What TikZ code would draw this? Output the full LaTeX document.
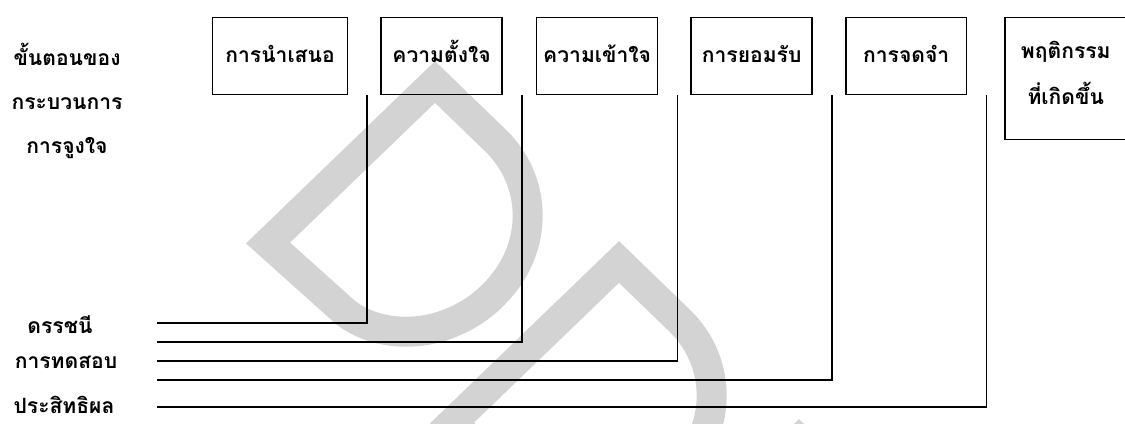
\documentclass[tikz,border=0pt]{standalone}
\usepackage{fontspec}
\newfontfamily\thaifont[Script=Thai]{Loma}
\usepackage{xcolor}
\usepackage{tikz}
\usetikzlibrary{positioning}
\definecolor{wmgray}{RGB}{211,211,211}

\begin{document}
\begin{tikzpicture}[
    x=0.02cm, y=-0.02cm,
    box/.style={draw, rectangle, line width=0.9pt, minimum width=2.42cm, minimum height=1.54cm, inner sep=2pt, align=center, font=\thaifont\bfseries\fontsize{12}{26}\selectfont},
    stage/.style={box, text height=10pt, text depth=3pt},
    lbl/.style={align=center, inner sep=0pt, font=\thaifont\bfseries\fontsize{12}{25}\selectfont},
    link/.style={line width=0.9pt},
    wmark/.style={draw=wmgray, line width=0.6cm, line join=miter}
]
    \useasboundingbox (0,0) rectangle (1125,423);

    % watermark behind everything
    \begin{scope}
        \clip (0,0) rectangle (1125,423);
        \foreach \dx/\dy in {0/0, 184/180, 364/358}
            \draw[wmark, shift={(\dx,\dy)}] (435,82) -- (268,243) -- (345,312)
                .. controls (375,336) and (430,342) .. (478,308)
                .. controls (540,262) and (542,185) .. (495,140) -- cycle;
    \end{scope}

    \node[lbl] (steps) at (67,101) {ขั้นตอนของ\\กระบวนการ\\การจูงใจ};

    \node[stage, minimum width=2.7cm] (present) at (280,56) {การนำเสนอ};
    \node[stage, right=0.64cm of present] (intent) {ความตั้งใจ};
    \node[stage, right=0.66cm of intent] (understand) {ความเข้าใจ};
    \node[stage, right=0.64cm of understand] (accept) {การยอมรับ};
    \node[stage, right=0.64cm of accept] (memory) {การจดจำ};
    \node[box, minimum height=2.44cm, text depth=0.22cm, right=0.74cm of memory.north east, anchor=north west] (behave) {พฤติกรรม\\ที่เกิดขึ้น};

    \node[lbl] (index) at (60,325) {ดรรชนี};
    \node[lbl] (test) at (66,362) {การทดสอบ};
    \node[lbl, text depth=0pt] (effect) at (64,405) {ประสิทธิผล};

    \coordinate (s1) at (157,323);
    \coordinate (s2) at (157,342);
    \coordinate (s3) at (157,361);
    \coordinate (s4) at (157,380);
    \coordinate (s5) at (157,407);

    \draw[link] ([xshift=0.38cm]present.south east) |- (s1);
    \draw[link] ([xshift=0.38cm]intent.south east) |- (s2);
    \draw[link] ([xshift=0.38cm]understand.south east) |- (s3);
    \draw[link] ([xshift=0.38cm]accept.south east) |- (s4);
    \draw[link] ([xshift=0.38cm]memory.south east) |- (s5);
\end{tikzpicture}
\end{document}
